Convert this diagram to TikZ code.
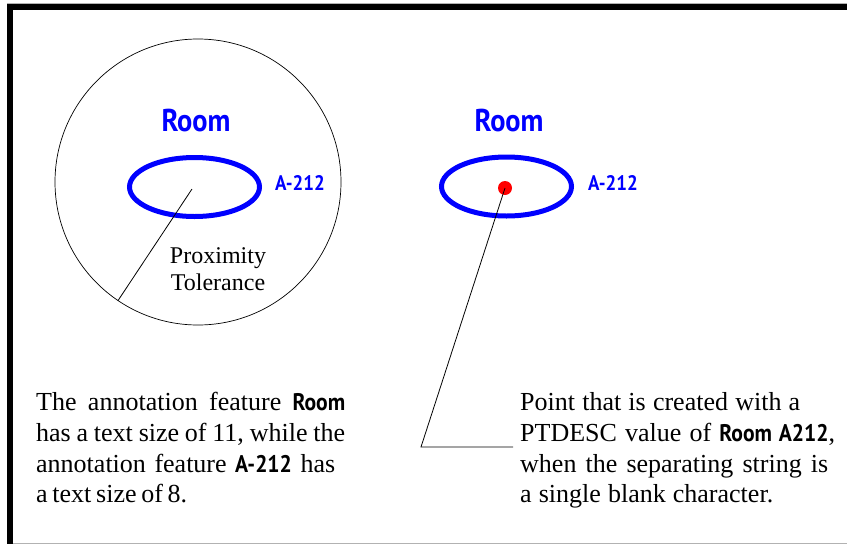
\documentclass[tikz,border=0pt]{standalone}
\usepackage{fontspec}
\setmainfont{Liberation Serif}
\newfontfamily\labsans[FakeStretch=0.9]{PT Sans}
\usetikzlibrary{shapes.geometric}
\definecolor{annoblue}{RGB}{0,0,255}
\definecolor{dotred}{RGB}{255,0,0}
\newcommand{\insans}[1]{{\labsans\bfseries\fontsize{24}{26}\selectfont #1}}
\tikzset{
  framegray/.style={draw=black!30, line width=1pt},
  framebold/.style={draw=black, line width=6pt},
  roombox/.style={ellipse, draw=annoblue, line width=5pt, inner sep=0pt,
                  minimum width=130pt, minimum height=59pt},
  roomlabel/.style={text=annoblue, inner sep=0pt,
                  font=\labsans\bfseries\fontsize{31.5}{34}\selectfont},
  numlabel/.style={text=annoblue, inner sep=0pt,
                  font=\labsans\bfseries\fontsize{21}{23}\selectfont},
  thinline/.style={draw=black, line width=0.8pt},
  bodyline/.style={inner sep=0pt, anchor=base west,
                  font=\fontsize{26}{30}\selectfont},
  tollabel/.style={inner sep=0pt, align=center,
                  font=\fontsize{24}{27}\selectfont},
  dotstyle/.style={circle, fill=dotred, inner sep=0pt, minimum size=14pt}
}
\begin{document}
\begin{tikzpicture}[x=1pt,y=-1pt]
\useasboundingbox (0,0) rectangle (847,544);
% frame
\draw[framegray] (7,3.5) -- (847,3.5);
\draw[framegray] (12,543) -- (847,543);
\draw[framebold] (7,7) -- (847,7);
\draw[framebold] (9.5,4) -- (9.5,544);

% left group
\node[circle, draw=black, line width=0.7pt, minimum size=286pt, inner sep=0pt] (prox) at (198,182) {};
\node[roombox] (e1) at (194.5,187) {};
\coordinate (c1) at (192,189);
\node[roomlabel] (room1) at (196,121) {Room};
\node[numlabel] (num1) at (300,183) {A-212};
\node[tollabel, anchor=base] (tol) at (218,290) {Proximity\\Tolerance};
\draw[thinline] (c1) -- (prox.236.6);

% right group
\node[roombox] (e2) at (506.5,186.5) {};
\node[roomlabel] (room2) at (509,121) {Room};
\node[numlabel] (num2) at (613,183) {A-212};
\node[dotstyle] (dot) at (505,188) {};
\coordinate (lb) at (421,447);
\coordinate (le) at (513,447);
\draw[thinline] (dot.center) -- (lb) -- (le);

% left text
\node[bodyline] (l1) at (36,410) {\makebox[309pt][s]{The annotation feature \insans{Room}}};
\node[bodyline] (l2) at (36,441) {\makebox[309pt][s]{has a text size of 11, while the}};
\node[bodyline] (l3) at (36,472) {\makebox[299pt][s]{annotation feature \insans{A-212} has}};
\node[bodyline] (l4) at (36,502) {\makebox[151pt][s]{a text size of 8.}};

% right text
\node[bodyline] (r1) at (520,410) {\makebox[280pt][s]{Point that is created with a}};
\node[bodyline] (r2) at (520,441) {\makebox[315pt][s]{PTDESC value of \insans{Room A212},}};
\node[bodyline] (r3) at (520,472) {\makebox[308pt][s]{when the separating string is}};
\node[bodyline] (r4) at (520,502) {\makebox[253pt][s]{a single blank character.}};
\end{tikzpicture}
\end{document}
